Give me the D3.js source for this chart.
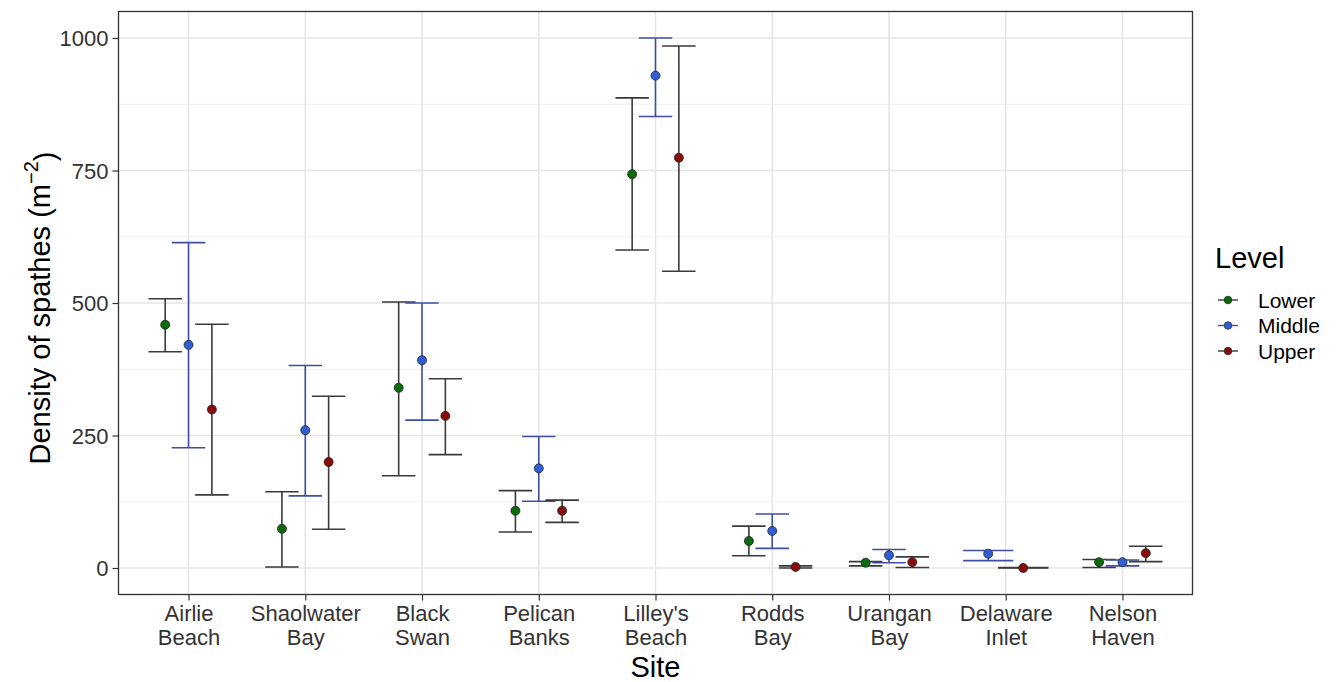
<!DOCTYPE html>
<html><head><meta charset="utf-8">
<script src="https://cdn.jsdelivr.net/npm/d3@7"></script>
<style>body{margin:0;background:#fff;} svg{display:block;font-family:Arial,"Liberation Sans",sans-serif;}</style>
</head><body>
<script>
const sites = ["Airlie\nBeach","Shaolwater\nBay","Black\nSwan","Pelican\nBanks","Lilley's\nBeach","Rodds\nBay","Urangan\nBay","Delaware\nInlet","Nelson\nHaven"];
const levels = ["Lower","Middle","Upper"];
// mean, lower CI, upper CI per site (null = no data)
const lowerMean = [459, 74, 340, 108, 743, 51, 10, null, 11];
const lowerLo   = [408,  2, 174,  68, 600, 23,  4, null, 1];
const lowerHi   = [508, 144, 502, 146, 887, 79, 12, null, 16];
const middleMean = [421, 260, 392, 188, 929, 70, 24, 27, 11];
const middleLo   = [227, 136, 279, 126, 852, 37, 10, 14, 4];
const middleHi   = [614, 382, 500, 248, 1000, 102, 35, 33, 15];
const upperMean = [299, 200, 287, 108, 774, 2, 11, 0, 28];
const upperLo   = [138,  73, 214,  86, 560, 0,  1, 0, 12];
const upperHi   = [460, 324, 357, 128, 985, 4, 21, 1, 41];
const yTicks = [0, 250, 500, 750, 1000];

const fillColors = {Lower:"#0a6b0a", Middle:"#2f5fd6", Upper:"#8b0a0a"};
const barColors = {Lower:"#3a3a3a", Middle:"#3e4fa3", Upper:"#3a3a3a"};

const series = {
  Lower:{m:lowerMean, lo:lowerLo, hi:lowerHi},
  Middle:{m:middleMean, lo:middleLo, hi:middleHi},
  Upper:{m:upperMean, lo:upperLo, hi:upperHi}
};

const W=1336,H=682;
const svg=d3.select("body").append("svg").attr("width",W).attr("height",H);
const panel={l:118.5,r:1192.5,t:11.5,b:594.5};

const x=d3.scalePoint().domain(d3.range(sites.length)).range([panel.l,panel.r]).padding(0.6);
const step=x.step();
const y=d3.scaleLinear().domain([-50,1050]).range([panel.b,panel.t]);

// grid
const g=svg.append("g");
const minor=[125,375,625,875];
g.selectAll(".mn").data(minor).join("line")
  .attr("x1",panel.l).attr("x2",panel.r).attr("y1",d=>y(d)).attr("y2",d=>y(d))
  .attr("stroke","#f0f0f0").attr("stroke-width",1);
g.selectAll(".mj").data(yTicks).join("line")
  .attr("x1",panel.l).attr("x2",panel.r).attr("y1",d=>y(d)).attr("y2",d=>y(d))
  .attr("stroke","#e6e6e6").attr("stroke-width",1.6);
g.selectAll(".vx").data(d3.range(sites.length)).join("line")
  .attr("y1",panel.t).attr("y2",panel.b).attr("x1",d=>x(d)).attr("x2",d=>x(d))
  .attr("stroke","#e6e6e6").attr("stroke-width",1.6);

// data rows
const rows=[];
sites.forEach((s,i)=>{
  const present=levels.filter(l=>series[l].m[i]!==null);
  const n=present.length;
  present.forEach((l,k)=>{
    const off=(-0.3 + 0.6*(k+0.5)/n)*step;
    rows.push({i,l,n,cx:x(i)+off,m:series[l].m[i],lo:series[l].lo[i],hi:series[l].hi[i]});
  });
});

const eb=svg.append("g");
rows.forEach(r=>{
  const hw=0.86*step/(2*r.n);
  const c=barColors[r.l];
  eb.append("line").attr("x1",r.cx).attr("x2",r.cx).attr("y1",y(r.lo)).attr("y2",y(r.hi)).attr("stroke",c).attr("stroke-width",1.6);
  eb.append("line").attr("x1",r.cx-hw).attr("x2",r.cx+hw).attr("y1",y(r.lo)).attr("y2",y(r.lo)).attr("stroke",c).attr("stroke-width",1.6);
  eb.append("line").attr("x1",r.cx-hw).attr("x2",r.cx+hw).attr("y1",y(r.hi)).attr("y2",y(r.hi)).attr("stroke",c).attr("stroke-width",1.6);
});
svg.append("g").selectAll("circle").data(rows).join("circle")
  .attr("cx",d=>d.cx).attr("cy",d=>y(d.m)).attr("r",4.5)
  .attr("fill",d=>fillColors[d.l]).attr("stroke","#222").attr("stroke-width",0.8);

// panel border
svg.append("rect").attr("x",panel.l).attr("y",panel.t).attr("width",panel.r-panel.l).attr("height",panel.b-panel.t)
  .attr("fill","none").attr("stroke","#333").attr("stroke-width",1.3);

// y axis
const ya=svg.append("g").attr("transform",`translate(${panel.l},0)`)
  .call(d3.axisLeft(y).tickValues(yTicks).tickSize(6).tickPadding(4).tickFormat(d3.format("d")));
ya.select(".domain").remove();
ya.selectAll(".tick line").attr("stroke","#333").attr("stroke-width",1.2);
ya.selectAll(".tick text").attr("fill","#333").style("font-size","22px").attr("dy","0.36em");

// x axis
const xa=svg.append("g").attr("transform",`translate(0,${panel.b})`)
  .call(d3.axisBottom(x).tickSize(6).tickFormat(""));
xa.select(".domain").remove();
xa.selectAll(".tick line").attr("stroke","#333").attr("stroke-width",1.2);
xa.selectAll(".tick").each(function(d){
  const lines=sites[d].split("\n");
  const t=d3.select(this).append("text").attr("fill","#333").style("font-size","22px").attr("text-anchor","middle");
  lines.forEach((ln,j)=>t.append("tspan").attr("x",0).attr("y",26+j*24.5).text(ln));
});

// titles
svg.append("text").attr("x",(panel.l+panel.r)/2).attr("y",677).attr("text-anchor","middle")
  .style("font-size","29px").attr("fill","#000").text("Site");
const yt=svg.append("text").attr("transform",`translate(50,${(panel.t+panel.b)/2+5}) rotate(-90)`)
  .attr("text-anchor","middle").style("font-size","29px").attr("fill","#000");
yt.append("tspan").text("Density of spathes (m");
yt.append("tspan").attr("dy","-0.6em").style("font-size","20px").text("\u22122");
yt.append("tspan").attr("dy","0.6em").text(")");

// legend
const lg=svg.append("g").attr("transform","translate(1215,0)");
lg.append("text").attr("x",0).attr("y",268).style("font-size","29px").attr("fill","#000").text("Level");
levels.forEach((l,k)=>{
  const yy=300+k*25.5;
  lg.append("line").attr("x1",3).attr("x2",23).attr("y1",yy).attr("y2",yy).attr("stroke",barColors[l]).attr("stroke-width",1.4);
  lg.append("circle").attr("cx",13).attr("cy",yy).attr("r",3.8).attr("fill",fillColors[l]).attr("stroke","#222").attr("stroke-width",0.7);
  lg.append("text").attr("x",43).attr("y",yy).attr("dy","0.36em").style("font-size","21px").attr("fill","#000").text(l);
});
</script>
</body></html>
